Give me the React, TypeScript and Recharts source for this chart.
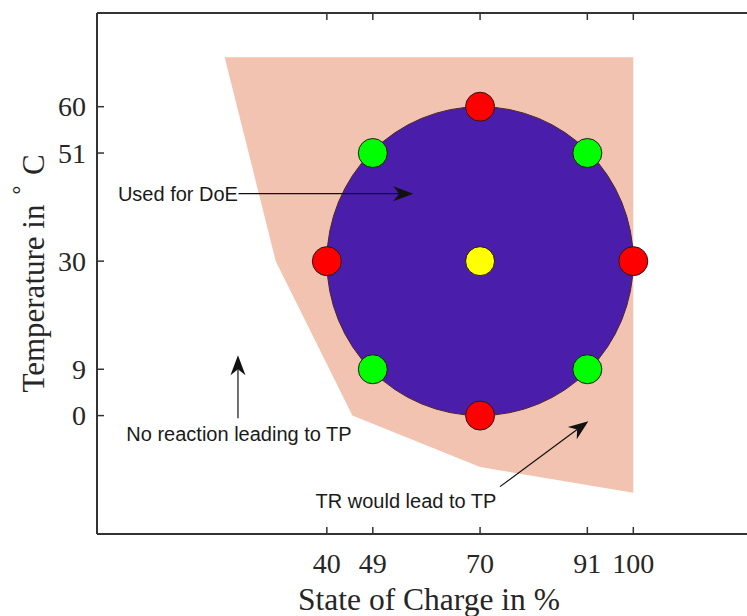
import React from 'react';
import { ComposedChart, XAxis, YAxis, Area, Scatter, Label } from 'recharts';

// safe operating region (peach), lower boundary is piecewise linear
const regionSoc = [20, 30, 45, 70, 100];
const regionTempLow = [69.6, 30, 0, -10, -15];
const regionTempHigh = [69.6, 69.6, 69.6, 69.6, 69.6];

// design space used for the DoE
const doeSoc = [70];
const doeTemp = [30];
const doeRadius = [30];

const redSoc = [40, 100, 70, 70];
const redTemp = [30, 30, 60, 0];
const greenSoc = [49, 91, 49, 91];
const greenTemp = [51, 51, 9, 9];
const yellowSoc = [70];
const yellowTemp = [30];

const socTicks = [40, 49, 70, 91, 100];
const tempTicks = [0, 9, 30, 51, 60];

// annotations, in data units
const arrowFromSoc = [22.7, 22.6, 73.9];
const arrowFromTemp = [43.1, -0.5, -13.8];
const arrowToSoc = [56.9, 22.6, 91.2];
const arrowToTemp = [43.1, 11.7, -1.1];

const noteText = ['Used for DoE', 'No reaction leading to TP', 'TR would lead to TP'];
const noteSoc = [22.6, 22.8, 55.5];
const noteTemp = [41.6, -5.0, -18.0];
const noteAnchor = ['end', 'middle', 'middle'];

const X_DOMAIN: [number, number] = [-5, 125];
const Y_DOMAIN: [number, number] = [-23, 78.2];
const W = 780;
const H = 616;
// plot box: left 97, top 13, right 761, bottom 534
const X_AXIS_H = 80;
const TOP_AXIS_H = 1;
const Y_AXIS_W = 90;
const MARGIN = { top: 13 - TOP_AXIS_H, right: 19, bottom: 82 - X_AXIS_H, left: 97 - Y_AXIS_W };
const PLOT_W = W - 97 - 19;
const PLOT_H = H - 13 - 82;
const KX = PLOT_W / (X_DOMAIN[1] - X_DOMAIN[0]);
const KY = PLOT_H / (Y_DOMAIN[1] - Y_DOMAIN[0]);

const AXIS = '#333333';
const SERIF = '"Liberation Serif", "Times New Roman", serif';
const SANS = '"Liberation Sans", Arial, sans-serif';

const regionData = regionSoc.map((x, i) => ({ x, low: regionTempLow[i], high: regionTempHigh[i] }));
const doeData = doeSoc.map((x, i) => ({ x, y: doeTemp[i], r: doeRadius[i] }));
const pts = (xs: number[], ys: number[]) => xs.map((x, i) => ({ x, y: ys[i] }));
const arrowData = arrowFromSoc.map((x, i) => ({ x, y: arrowFromTemp[i], x2: arrowToSoc[i], y2: arrowToTemp[i] }));
const noteData = noteSoc.map((x, i) => ({ x, y: noteTemp[i], text: noteText[i], anchor: noteAnchor[i] }));

const dot = (fill: string) => (p: any) => (
  <circle cx={p.cx} cy={p.cy} r={14.5} fill={fill} stroke="#2a1515" strokeWidth={1} />
);

const Arrow = (p: any) => {
  const { cx, cy, payload } = p;
  const ex = cx + (payload.x2 - payload.x) * KX;
  const ey = cy - (payload.y2 - payload.y) * KY;
  const len = Math.hypot(ex - cx, ey - cy);
  const ux = (ex - cx) / len;
  const uy = (ey - cy) / len;
  const nx = -uy;
  const ny = ux;
  const L = 20;
  const HW = 7.5;
  const N = 14;
  const head = [
    [ex, ey],
    [ex - L * ux + HW * nx, ey - L * uy + HW * ny],
    [ex - N * ux, ey - N * uy],
    [ex - L * ux - HW * nx, ey - L * uy - HW * ny],
  ]
    .map((q) => q.join(','))
    .join(' ');
  return (
    <g>
      <line x1={cx} y1={cy} x2={ex - N * ux} y2={ey - N * uy} stroke="#111" strokeWidth={1.2} />
      <polygon points={head} fill="#111" />
    </g>
  );
};

const Note = (p: any) => (
  <text x={p.cx} y={p.cy} textAnchor={p.payload.anchor} fontFamily={SANS} fontSize={20} fill="#1a1a1a">
    {p.payload.text}
  </text>
);

const BottomTick = ({ x, y, payload }: any) => (
  <g>
    <line x1={x} x2={x} y1={y} y2={y - 7} stroke={AXIS} strokeWidth={1.5} />
    <text x={x} y={y + 39} textAnchor="middle" fontFamily={SERIF} fontSize={28} fill="#262626">
      {payload.value}
    </text>
  </g>
);

const TopTick = ({ x, y }: any) => <line x1={x} x2={x} y1={y} y2={y + 7} stroke={AXIS} strokeWidth={1.5} />;

const LeftTick = ({ x, y, payload }: any) => (
  <g>
    <line x1={x} x2={x + 7} y1={y} y2={y} stroke={AXIS} strokeWidth={1.5} />
    <text x={x - 11} y={y + 9.5} textAnchor="end" fontFamily={SERIF} fontSize={28} fill="#262626">
      {payload.value}
    </text>
  </g>
);

export default function App() {
  return (
    <div style={{ position: 'absolute', left: 0, top: 0, width: 747, height: 616, overflow: 'hidden', background: '#fff' }}>
      <ComposedChart width={W} height={H} data={regionData} margin={MARGIN}>
        <XAxis
          type="number"
          dataKey="x"
          domain={X_DOMAIN}
          allowDataOverflow
          ticks={socTicks}
          height={X_AXIS_H}
          tickSize={0}
          tickMargin={0}
          tickLine={false}
          axisLine={{ stroke: AXIS, strokeWidth: 2 }}
          tick={<BottomTick />}
          interval={0}
        >
          <Label
            content={({ viewBox }: any) => (
              <text
                x={viewBox.x + viewBox.width / 2}
                y={viewBox.y + 76}
                textAnchor="middle"
                fontFamily={SERIF}
                fontSize={31.5}
                fill="#262626"
              >
                State of Charge in %
              </text>
            )}
          />
        </XAxis>
        <XAxis
          xAxisId="top"
          orientation="top"
          type="number"
          dataKey="x"
          domain={X_DOMAIN}
          allowDataOverflow
          ticks={socTicks}
          height={TOP_AXIS_H}
          tickSize={0}
          tickMargin={0}
          tickLine={false}
          axisLine={{ stroke: AXIS, strokeWidth: 2 }}
          tick={<TopTick />}
          interval={0}
        />
        <YAxis
          type="number"
          dataKey="y"
          domain={Y_DOMAIN}
          allowDataOverflow
          ticks={tempTicks}
          width={Y_AXIS_W}
          tickSize={0}
          tickMargin={0}
          tickLine={false}
          axisLine={{ stroke: AXIS, strokeWidth: 2 }}
          tick={<LeftTick />}
          interval={0}
        >
          <Label
            content={({ viewBox }: any) => {
              const cx = viewBox.x + viewBox.width - 53;
              const cy = viewBox.y + viewBox.height / 2;
              return (
                <text
                  x={cx}
                  y={cy}
                  transform={`rotate(-90 ${cx} ${cy})`}
                  textAnchor="middle"
                  fontFamily={SERIF}
                  fontSize={31}
                  fill="#262626"
                >
                  Temperature in{' '}
                  <tspan fontSize={22} dy={-21}>
                    ∘
                  </tspan>
                  <tspan dy={21}> C</tspan>
                </text>
              );
            }}
          />
        </YAxis>
        <Area
          type="linear"
          dataKey={(d: any) => [d.low, d.high]}
          fill="#F2C3B0"
          fillOpacity={1}
          stroke="none"
          dot={false}
          activeDot={false}
          isAnimationActive={false}
        />
        <Scatter
          data={doeData}
          isAnimationActive={false}
          shape={(p: any) => (
            <ellipse
              cx={p.cx}
              cy={p.cy}
              rx={p.payload.r * KX}
              ry={p.payload.r * KY}
              fill="#4B1DAB"
              stroke="#4a2626"
              strokeWidth={1}
            />
          )}
        />
        <Scatter data={pts(redSoc, redTemp)} isAnimationActive={false} shape={dot('#FF0000')} />
        <Scatter data={pts(greenSoc, greenTemp)} isAnimationActive={false} shape={dot('#00FF00')} />
        <Scatter data={pts(yellowSoc, yellowTemp)} isAnimationActive={false} shape={dot('#FFFF00')} />
        <Scatter data={arrowData} isAnimationActive={false} shape={Arrow} />
        <Scatter data={noteData} isAnimationActive={false} shape={Note} />
      </ComposedChart>
    </div>
  );
}
